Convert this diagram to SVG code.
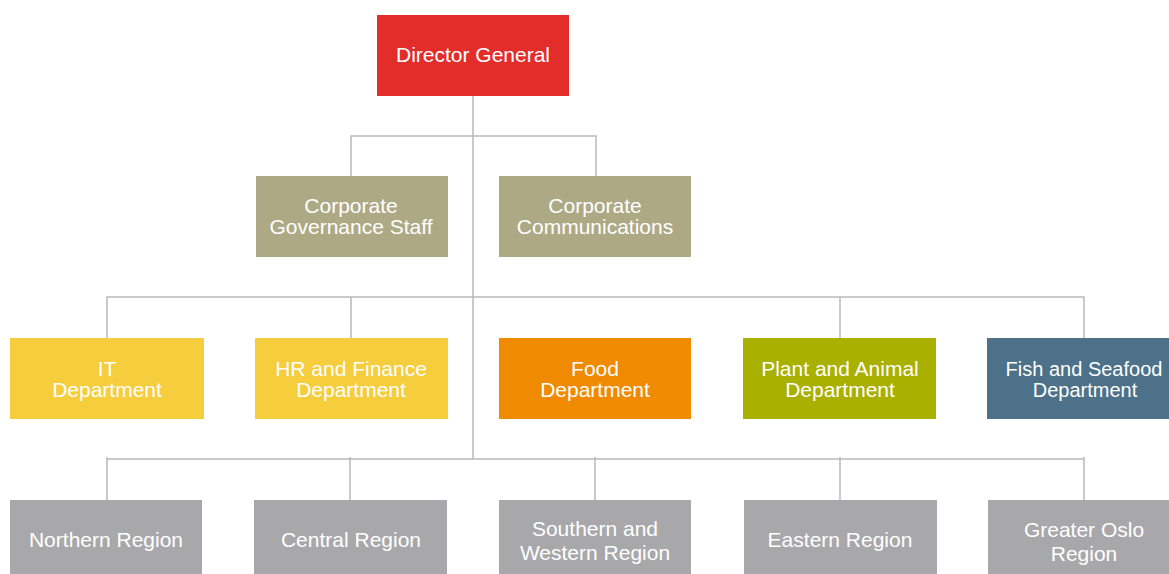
<svg xmlns="http://www.w3.org/2000/svg" width="1169" height="574" viewBox="0 0 1169 574">
<style>
.c{fill:none;stroke:#b9b9b9;stroke-width:1.5}
text{font-family:"Liberation Sans",Arial,sans-serif;font-size:21px;fill:#ffffff;text-anchor:middle}
.red{fill:#e22d2a}
.tan{fill:#aea985}
.yel{fill:#f5cd3d}
.ora{fill:#f08a00}
.oli{fill:#a9b000}
.blu{fill:#4c7189}
.gry{fill:#a8a8aa}
</style>
<rect width="1169" height="574" fill="#ffffff"/>
<g id="connectors">
<path class="c" d="M473 96V459"/>
<path class="c" d="M351 176V136H596V176"/>
<path class="c" d="M107 338V297H1084V338M351 297V338M840 297V338"/>
<path class="c" d="M107 500V459H1084V500M107 457V459M350 457V500M595 457V500M840 457V500M1084 457V459"/>
</g>
<g id="director-general"><rect class="red" x="377" y="15" width="192" height="81"/><text x="473" y="62">Director General</text></g>
<g id="corporate-governance"><rect class="tan" x="256" y="176" width="192" height="81"/><text x="351" y="213">Corporate</text><text x="351" y="234">Governance Staff</text></g>
<g id="corporate-communications"><rect class="tan" x="499" y="176" width="192" height="81"/><text x="595" y="213">Corporate</text><text x="595" y="234">Communications</text></g>
<g id="it-department"><rect class="yel" x="10" y="338" width="194" height="81"/><text x="107" y="376">IT</text><text x="107" y="397">Department</text></g>
<g id="hr-finance"><rect class="yel" x="255" y="338" width="193" height="81"/><text x="351" y="376">HR and Finance</text><text x="351" y="397">Department</text></g>
<g id="food"><rect class="ora" x="499" y="338" width="192" height="81"/><text x="595" y="376">Food</text><text x="595" y="397">Department</text></g>
<g id="plant-animal"><rect class="oli" x="743" y="338" width="193" height="81"/><text x="840" y="376">Plant and Animal</text><text x="840" y="397">Department</text></g>
<g id="fish-seafood"><rect class="blu" x="987" y="338" width="193" height="81"/><text x="1084" y="376" style="font-size:20px">Fish and Seafood</text><text x="1085" y="397" style="font-size:20px">Department</text></g>
<g id="northern"><rect class="gry" x="10" y="500" width="192" height="81"/><text x="106" y="547">Northern Region</text></g>
<g id="central"><rect class="gry" x="254" y="500" width="193" height="81"/><text x="351" y="547">Central Region</text></g>
<g id="southern-western"><rect class="gry" x="499" y="500" width="192" height="81"/><text x="595" y="536">Southern and</text><text x="595" y="560">Western Region</text></g>
<g id="eastern"><rect class="gry" x="744" y="500" width="193" height="81"/><text x="840" y="547">Eastern Region</text></g>
<g id="greater-oslo"><rect class="gry" x="988" y="500" width="193" height="81"/><text x="1084" y="537">Greater Oslo</text><text x="1084" y="561">Region</text></g>
</svg>
